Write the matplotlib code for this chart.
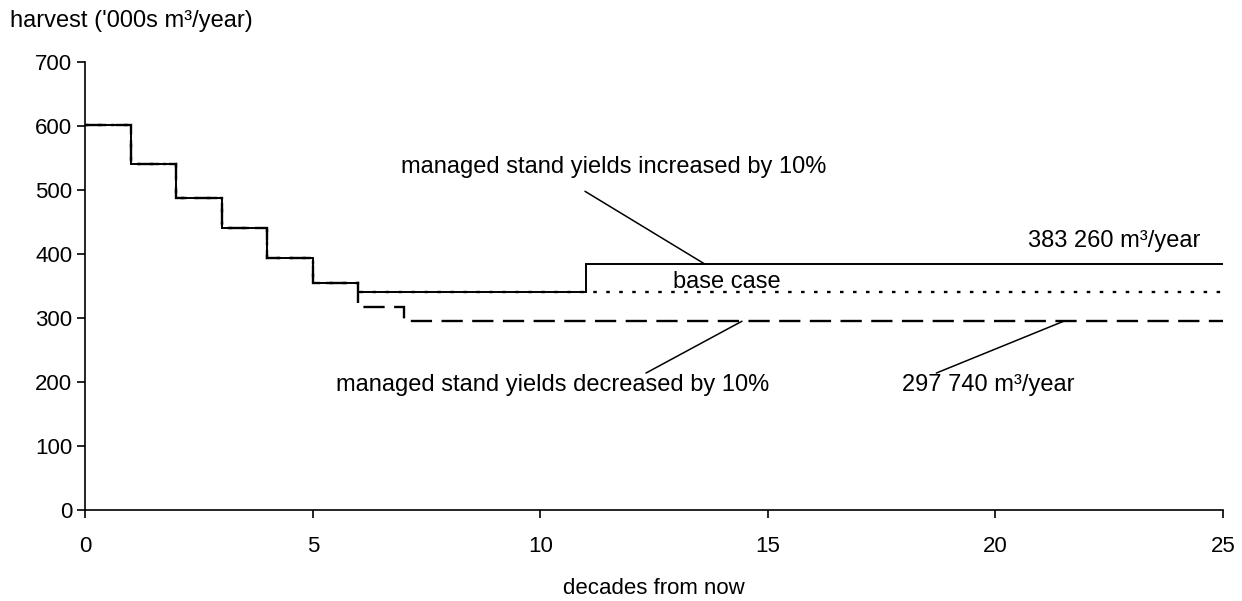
import matplotlib
matplotlib.use('Agg')
import matplotlib.pyplot as plt

plt.rcParams['font.family'] = ['Liberation Sans', 'DejaVu Sans']
plt.rcParams['font.size'] = 17

# step edges (decades) and harvest levels ('000s m3/year)
base_edges = [0, 1, 2, 3, 4, 5, 6, 25]
base_values = [602, 540, 487, 440, 393, 355, 340]

inc_edges = [0, 1, 2, 3, 4, 5, 6, 11, 25]
inc_values = [602, 540, 487, 440, 393, 355, 340, 384]

dec_edges = [0, 1, 2, 3, 4, 5, 6, 7, 25]
dec_values = [602, 540, 487, 440, 393, 355, 317, 295]

x_ticks = [0, 5, 10, 15, 20, 25]
y_ticks = [0, 100, 200, 300, 400, 500, 600, 700]

fig = plt.figure(figsize=(12.42, 6.01), dpi=100)
ax = fig.add_axes([0.0687, 0.1514, 0.9160, 0.7454])

ax.stairs(dec_values, dec_edges, baseline=None, color='black', lw=1.7, ls=(0, (9, 4)))
ax.stairs(base_values, base_edges, baseline=None, color='black', lw=1.7, ls=(0, (1.5, 4)))
ax.stairs(inc_values, inc_edges, baseline=None, color='black', lw=1.4)

ax.set_xlim(0, 25)
ax.set_ylim(0, 700)
ax.set_xticks(x_ticks)
ax.set_yticks(y_ticks)
for s in ['top', 'right']:
    ax.spines[s].set_visible(False)
for s in ['left', 'bottom']:
    ax.spines[s].set_linewidth(1.2)
ax.tick_params(axis='both', length=5.5, width=1.2, direction='out', labelsize=16)
ax.tick_params(axis='y', pad=4)
ax.tick_params(axis='x', pad=13)

ax.set_xlabel('decades from now', fontsize=16, labelpad=15)
fig.text(0.008, 0.965, "harvest ('000s m\u00b3/year)", ha='left', va='center')

line = dict(arrowstyle='-', color='black', lw=1.1, shrinkA=0, shrinkB=0)
ax.text(11.62, 536, 'managed stand yields increased by 10%', ha='center', va='center')
ax.annotate('', xy=(13.62, 384), xytext=(10.98, 498), arrowprops=line)
ax.text(22.6, 420, '383 260 m\u00b3/year', ha='center', va='center')
ax.text(14.1, 356, 'base case', ha='center', va='center')
ax.text(10.27, 195, 'managed stand yields decreased by 10%', ha='center', va='center')
ax.annotate('', xy=(14.43, 295), xytext=(12.32, 214), arrowprops=line)
ax.text(19.85, 195, '297 740 m\u00b3/year', ha='center', va='center')
ax.annotate('', xy=(21.5, 295), xytext=(18.7, 214), arrowprops=line)

fig.savefig('out.png', dpi=100)
